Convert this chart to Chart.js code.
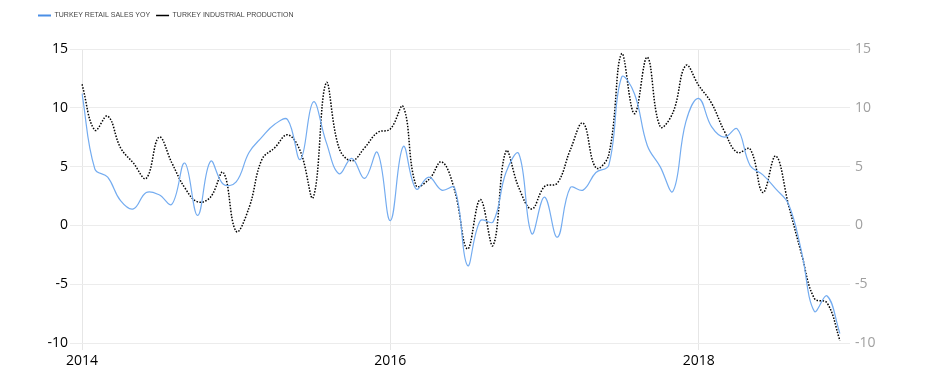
<!DOCTYPE html>
<html>
<head>
<meta charset="utf-8">
<script src="https://cdn.jsdelivr.net/npm/chart.js@4/dist/chart.umd.min.js"></script>
<style>
html,body{margin:0;padding:0;background:#fff;}
#wrap{width:947px;height:387px;position:relative;}
</style>
</head>
<body>
<div id="wrap"><canvas id="c" width="947" height="387"></canvas></div>
<script>
const months = [];
for (let y = 2014; y <= 2018; y++) for (let m = 1; m <= 12; m++) months.push(y + '-' + String(m).padStart(2, '0'));

const retailSales = [
  11.2, 4.8, 4.1, 2.1, 1.4, 2.8, 2.6, 1.8, 5.3, 0.85, 5.45, 3.5,
  3.7, 6.2, 7.5, 8.6, 9.0, 5.6, 10.5, 7.1, 4.4, 5.7, 4.0, 6.2,
  0.4, 6.7, 3.1, 4.1, 3.0, 3.2, -3.4, 0.4, 0.3, 4.5, 6.1, -0.7,
  2.4, -1.0, 3.2, 3.0, 4.5, 5.1, 12.6, 11.2, 6.8, 5.0, 2.9, 8.8,
  10.8, 8.4, 7.5, 8.2, 5.1, 4.3, 3.1, 1.8, -2.2, -7.3, -6.0, -9.2
];
const industrialProduction = [
  12.0, 8.1, 9.3, 6.6, 5.3, 4.0, 7.5, 5.3, 3.2, 2.0, 2.4, 4.5,
  -0.5, 1.5, 5.6, 6.6, 7.7, 6.3, 2.4, 12.1, 6.6, 5.5, 6.6, 7.9,
  8.2, 10.1, 3.4, 3.9, 5.4, 3.0, -2.0, 2.2, -1.7, 6.3, 3.2, 1.4,
  3.3, 3.6, 6.4, 8.7, 4.9, 6.0, 14.6, 9.5, 14.3, 8.4, 9.6, 13.6,
  11.9, 10.4, 8.0, 6.2, 6.5, 2.8, 5.9, 1.7, -2.4, -6.2, -6.6, -9.8
];
const yTicks = [-10, -5, 0, 5, 10, 15];
const xLabelYears = ['2014', '2016', '2018'];

const FONT = "'Open Sans', 'Liberation Sans', sans-serif";

// extra space below the legend row
(function () {
  const LegendClass = Chart.Legend && Chart.Legend._element;
  if (LegendClass && LegendClass.prototype.fit) {
    const origFit = LegendClass.prototype.fit;
    LegendClass.prototype.fit = function () {
      origFit.call(this);
      this.height += 20;
    };
  }
})();

function xLabel(i) {
  const s = months[i];
  if (s.endsWith('-01') && xLabelYears.includes(s.slice(0, 4))) return s.slice(0, 4);
  return '';
}

const defaultLabels = Chart.defaults.plugins.legend.labels.generateLabels;

new Chart(document.getElementById('c'), {
  type: 'line',
  data: {
    labels: months,
    datasets: [
      {
        label: 'TURKEY RETAIL SALES YOY',
        data: retailSales,
        borderColor: '#74acf0',
        backgroundColor: '#74acf0',
        borderWidth: 1.2,
        pointRadius: 0,
        tension: 0.4,
        yAxisID: 'y'
      },
      {
        label: 'TURKEY INDUSTRIAL PRODUCTION',
        data: industrialProduction,
        borderColor: '#000',
        backgroundColor: '#000',
        borderWidth: 1.5,
        borderDash: [1.5, 1.5],
        pointRadius: 0,
        tension: 0.4,
        yAxisID: 'y1'
      }
    ]
  },
  options: {
    responsive: false,
    animation: false,
    layout: { padding: { left: 32, right: 0, top: 6, bottom: 0 } },
    plugins: {
      tooltip: { enabled: false },
      legend: {
        position: 'top',
        align: 'start',
        labels: {
          usePointStyle: true,
          pointStyle: 'line',
          pointStyleWidth: 13,
          padding: 6,
          color: '#444',
          font: { family: "'Liberation Sans', Arial, sans-serif", size: 7 },
          generateLabels(chart) {
            const items = defaultLabels(chart);
            items.forEach((it, i) => {
              if (i === 0) { it.strokeStyle = '#4a8fe6'; it.lineWidth = 2; }
              else { it.strokeStyle = '#000'; it.lineWidth = 1.5; }
            });
            return items;
          }
        }
      }
    },
    scales: {
      x: {
        type: 'category',
        offset: false,
        afterFit(s) { s.height = 44; },
        grid: {
          color: (ctx) => (ctx.tick && xLabel(ctx.index) !== '' ? '#e6e6e6' : 'rgba(0,0,0,0)'),
          tickLength: 7,
          drawTicks: true
        },
        border: { display: false },
        ticks: {
          autoSkip: false,
          maxRotation: 0,
          padding: 3,
          color: '#000',
          font: { family: FONT, size: 14 },
          callback: (v, i) => xLabel(i)
        }
      },
      y: {
        position: 'left',
        min: -10,
        max: 15,
        afterFit(s) { s.width = 50; },
        afterBuildTicks(s) { s.ticks = yTicks.map(v => ({ value: v })); },
        grid: { color: '#ececec', tickLength: 12 },
        border: { display: false },
        ticks: { padding: 2, color: '#000', font: { family: FONT, size: 14 } }
      },
      y1: {
        position: 'right',
        min: -10,
        max: 15,
        afterFit(s) { s.width = 107; },
        afterBuildTicks(s) { s.ticks = yTicks.map(v => ({ value: v })); },
        grid: { color: '#ececec', tickLength: 10, drawOnChartArea: false },
        border: { display: false },
        ticks: { padding: 5, color: '#a0a0a0', font: { family: FONT, size: 14 } }
      }
    }
  }
});
</script>
</body>
</html>
